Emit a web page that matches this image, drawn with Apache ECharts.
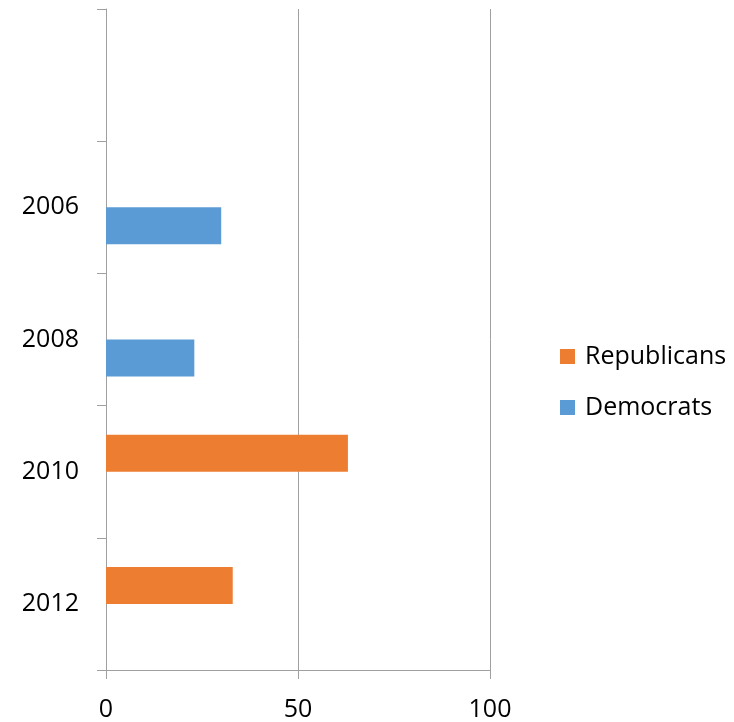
<!DOCTYPE html>
<html>
<head>
<meta charset="utf-8">
<script src="https://cdn.jsdelivr.net/npm/echarts@6/dist/echarts.min.js"></script>
<style>html,body{margin:0;padding:0;background:#fff}#c{width:734px;height:722px}</style>
</head>
<body>
<div id="c"></div>
<script>
const categories = ['', '2006', '2008', '2010', '2012'];
const republicans = [null, null, null, 63, 33];
const democrats = [null, 30, 23, null, null];
const xTicks = [0, 50, 100];

const FONT = 'Open Sans';
const AXIS = '#a0a0a0';
const chart = echarts.init(document.getElementById('c'), null, {renderer: 'canvas'});
chart.setOption({
  animation: false,
  textStyle: {fontFamily: FONT},
  grid: {left: 106, right: 244, top: 9, bottom: 51, containLabel: false},
  legend: {
    orient: 'vertical', left: 560, top: 344, padding: 0,
    itemWidth: 15, itemHeight: 15, itemGap: 26,
    icon: 'rect',
    textStyle: {fontFamily: FONT, fontSize: 25, color: '#000', padding: [0, 0, 0, 5]},
    data: ['Republicans', 'Democrats']
  },
  xAxis: {
    type: 'value', min: xTicks[0], max: xTicks[xTicks.length - 1], interval: 50,
    axisLine: {show: true, lineStyle: {color: AXIS, width: 1}},
    axisTick: {show: true, length: 9, lineStyle: {color: AXIS}},
    axisLabel: {fontFamily: FONT, fontSize: 25, color: '#000', margin: 27},
    splitLine: {show: true, lineStyle: {color: AXIS, width: 1}}
  },
  yAxis: {
    type: 'category', data: categories, inverse: true,
    axisLine: {show: true, lineStyle: {color: AXIS, width: 1}},
    axisTick: {show: true, length: 9, lineStyle: {color: AXIS}},
    axisLabel: {fontFamily: FONT, fontSize: 25, color: '#000', margin: 27},
    splitLine: {show: false}
  },
  series: [
    {name: 'Republicans', type: 'bar', data: republicans, barWidth: 37, barGap: '0%',
     itemStyle: {color: '#ED7D31'}},
    {name: 'Democrats', type: 'bar', data: democrats, barWidth: 37, barGap: '0%',
     itemStyle: {color: '#5B9BD5'}}
  ]
});
</script>
</body>
</html>
